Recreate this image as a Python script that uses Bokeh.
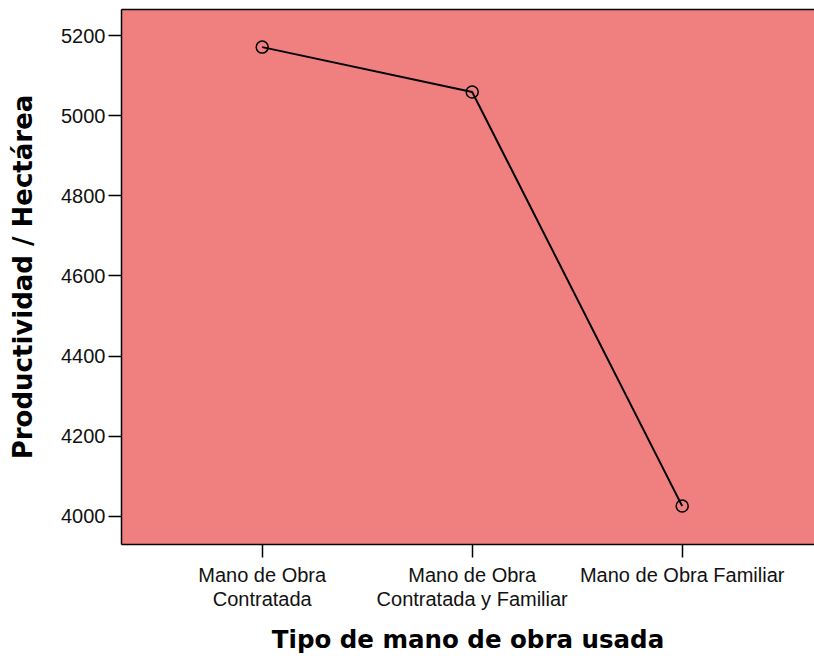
from bokeh.plotting import figure
from bokeh.models import FixedTicker, Range1d, LinearAxis
from bokeh.embed import file_html
from bokeh.resources import INLINE

categories = ["Mano de Obra\nContratada", "Mano de Obra\nContratada y Familiar", "Mano de Obra Familiar"]
values = [5172, 5060, 4025]
y_ticks = [4000, 4200, 4400, 4600, 4800, 5000, 5200]

xs = list(range(len(categories)))

p = figure(width=814, height=656, output_backend="svg", toolbar_location=None,
           x_range=Range1d(-0.67, 2.63), y_range=Range1d(3929, 5266),
           min_border_left=121, min_border_right=0, min_border_top=9, min_border_bottom=111)

p.background_fill_color = "#F08080"
p.border_fill_color = "white"
p.outline_line_color = None
p.xgrid.visible = False
p.ygrid.visible = False

p.line(xs, values, line_color="black", line_width=2)
p.scatter(xs, values, marker="circle", size=12, fill_color=None, line_color="black", line_width=1.5)

xax = p.below[0]
yax = p.left[0]
xax.ticker = FixedTicker(ticks=xs)
xax.major_label_overrides = {i: c for i, c in enumerate(categories)}
yax.ticker = FixedTicker(ticks=y_ticks)

for ax in (xax, yax):
    ax.axis_line_color = "black"
    ax.axis_line_width = 1.5
    ax.major_tick_line_color = "black"
    ax.major_tick_line_width = 1.5
    ax.major_tick_out = 13
    ax.major_tick_in = 0
    ax.minor_tick_line_color = None
    ax.major_label_text_font = "Liberation Sans"
    ax.major_label_text_font_size = "20px"
    ax.major_label_text_line_height = 1.1
    ax.major_label_text_color = "#111111"
    ax.axis_label_text_font = "DejaVu Sans"
    ax.axis_label_text_font_style = "bold"
    ax.axis_label_text_color = "black"

xax.axis_label = "Tipo de mano de obra usada"
yax.axis_label = "Productividad / Hectárea"
xax.axis_label_text_font_size = "24.5px"
yax.axis_label_text_font_size = "26px"
xax.major_label_standoff = 6
yax.major_label_standoff = 3
xax.axis_label_standoff = 12
yax.axis_label_standoff = 20

top_axis = LinearAxis(ticker=FixedTicker(ticks=[]), axis_line_color="black", axis_line_width=1.5,
                      major_tick_line_color=None, minor_tick_line_color=None,
                      major_tick_out=0, major_tick_in=0, major_label_standoff=0,
                      axis_label_standoff=0, major_label_text_font_size="0px")
p.add_layout(top_axis, "above")

open("out.html", "w").write(file_html(p, INLINE))
